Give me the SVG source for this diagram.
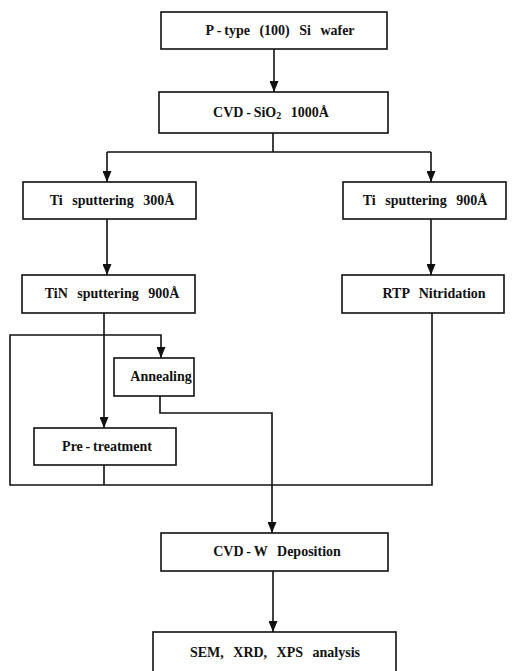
<svg xmlns="http://www.w3.org/2000/svg" width="521" height="671" viewBox="0 0 521 671">
<style>
.box{fill:#fff;stroke:#111;stroke-width:1.6}
.lbl{font-family:"Liberation Serif","Times New Roman",serif;font-weight:bold;font-size:14px;fill:#111;text-anchor:middle;word-spacing:6px}
.con{fill:none;stroke:#111;stroke-width:1.6}
.arr{marker-end:url(#ah)}
</style>
<defs>
<marker id="ah" viewBox="0 0 10 10" refX="10" refY="5" markerWidth="11" markerHeight="9" markerUnits="userSpaceOnUse" orient="auto" preserveAspectRatio="none">
<path d="M0,0 L10,5 L0,10 z" fill="#111"/>
</marker>
</defs>
<rect width="521" height="671" fill="#fff"/>
<g id="connectors">
<path class="con arr" d="M274,49 V92"/>
<path class="con" d="M273,133 V152 M107,152 H431"/>
<path class="con arr" d="M107,152 V182"/>
<path class="con arr" d="M431,152 V182"/>
<path class="con arr" d="M107,219 V275"/>
<path class="con arr" d="M431,219 V275"/>
<path class="con arr" d="M104,313 V428"/>
<path class="con arr" d="M432,313 V485 H10 V335 H161 V358"/>
<path class="con" d="M104,465 V485"/>
<path class="con arr" d="M160,396 V413 H272 V533"/>
<path class="con arr" d="M273,571 V632"/>
</g>
<g id="n1"><rect class="box" x="161" y="12" width="226" height="37"/><text class="lbl" x="280" y="35">P&#8201;-&#8201;type (100) Si wafer</text></g>
<g id="n2"><rect class="box" x="159" y="92" width="229" height="41"/><text class="lbl" x="271" y="117">CVD&#8201;-&#8201;SiO<tspan font-size="10" dy="2">2</tspan><tspan dy="-2"> 1000Å</tspan></text></g>
<g id="n3"><rect class="box" x="23" y="182" width="173" height="37"/><text class="lbl" x="112" y="205">Ti sputtering 300Å</text></g>
<g id="n4"><rect class="box" x="343" y="182" width="163" height="37"/><text class="lbl" x="425" y="205">Ti sputtering 900Å</text></g>
<g id="n5"><rect class="box" x="22" y="275" width="173" height="38"/><text class="lbl" x="112" y="298">TiN sputtering 900Å</text></g>
<g id="n6"><rect class="box" x="342" y="275" width="162" height="38"/><text class="lbl" x="434" y="298">RTP Nitridation</text></g>
<g id="n7"><rect class="box" x="114" y="358" width="80" height="38"/><text class="lbl" x="161" y="381">Annealing</text></g>
<g id="n8"><rect class="box" x="34" y="428" width="142" height="37"/><text class="lbl" x="107" y="451">Pre&#8201;-&#8201;treatment</text></g>
<g id="n9"><rect class="box" x="161" y="533" width="227" height="38"/><text class="lbl" x="277" y="556">CVD&#8201;-&#8201;W Deposition</text></g>
<g id="n10"><rect class="box" x="153" y="632" width="243" height="45"/><text class="lbl" x="275" y="657">SEM, XRD, XPS analysis</text></g>
</svg>
